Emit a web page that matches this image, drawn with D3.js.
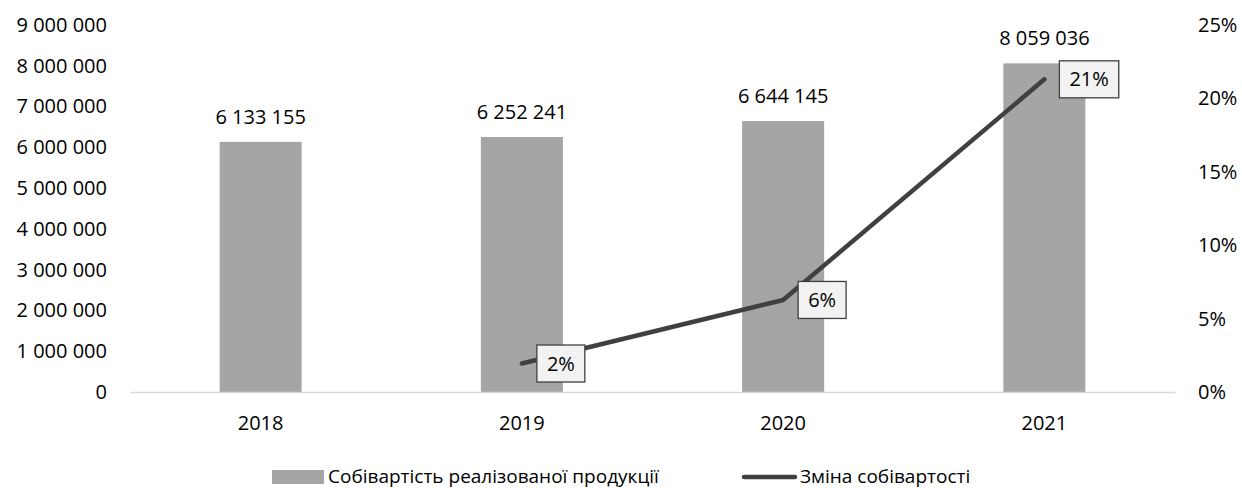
<!DOCTYPE html>
<html>
<head>
<meta charset="utf-8">
<script src="https://cdn.jsdelivr.net/npm/d3@7"></script>
<style>
  body { margin: 0; background: #fff; }
  svg text { font-family: "Open Sans", sans-serif; fill: #000; }
</style>
</head>
<body>
<div id="chart"></div>
<script>
// Data
var years = ["2018", "2019", "2020", "2021"];
var cost = [6133155, 6252241, 6644145, 8059036];
var change = [null, 0.0194, 0.0627, 0.2130];
var leftTicks = [0, 1000000, 2000000, 3000000, 4000000, 5000000, 6000000, 7000000, 8000000, 9000000];
var rightTicks = [0, 0.05, 0.10, 0.15, 0.20, 0.25];
var seriesNames = ["Собівартість реалізованої продукції", "Зміна собівартості"];

var width = 1242;
var height = 488;
var margin = ({ top: 25, right: 67, bottom: 96, left: 130 });
var fontSize = 20;

var barColor = "#a5a5a5";
var lineColor = "#404040";

// group numbers with a space like "6 133 155"
var fmtNum = d => d3.format(",")(d).replace(/,/g, " ");

const svg = d3.select("#chart")
    .append("svg")
    .attr("width", width)
    .attr("height", height);

var x = d3.scaleBand()
    .domain(years)
    .range([margin.left, width - margin.right])
    .paddingInner(0.686)
    .paddingOuter(0.343);

var y = d3.scaleLinear()
    .domain([0, 9000000])
    .range([height - margin.bottom, margin.top]);

var y2 = d3.scaleLinear()
    .domain([0, 0.25])
    .range([height - margin.bottom, margin.top]);

// Left axis (no line, no ticks)
svg.append("g")
    .attr("transform", `translate(${margin.left},0)`)
    .call(d3.axisLeft(y).tickValues(leftTicks).tickSize(0).tickPadding(23).tickFormat(fmtNum))
    .call(g => g.select(".domain").remove())
    .call(g => g.selectAll("text").style("font-size", fontSize + "px").attr("fill", "#000"));

// Right axis
svg.append("g")
    .attr("transform", `translate(${width - margin.right},0)`)
    .call(d3.axisRight(y2).tickValues(rightTicks).tickSize(0).tickPadding(23).tickFormat(d3.format(".0%")))
    .call(g => g.select(".domain").remove())
    .call(g => g.selectAll("text").style("font-size", fontSize + "px").attr("fill", "#000"));

// Bars
svg.append("g")
    .selectAll("rect")
    .data(years)
    .join("rect")
      .attr("fill", barColor)
      .attr("x", d => x(d))
      .attr("y", (d, i) => y(cost[i]))
      .attr("width", x.bandwidth())
      .attr("height", (d, i) => y(0) - y(cost[i]));

// Bottom axis: light baseline and year labels
svg.append("g")
    .attr("transform", `translate(0,${height - margin.bottom})`)
    .call(d3.axisBottom(x).tickSize(0).tickPadding(24))
    .call(g => g.select(".domain").attr("stroke", "#d9d9d9").attr("stroke-width", 1.3))
    .call(g => g.selectAll("text").style("font-size", fontSize + "px").attr("fill", "#000"));

// Value labels over the bars
svg.append("g")
    .selectAll("text")
    .data(years)
    .join("text")
      .attr("x", d => x(d) + x.bandwidth() / 2)
      .attr("y", (d, i) => y(cost[i]) - 18)
      .attr("text-anchor", "middle")
      .style("font-size", fontSize + "px")
      .text((d, i) => fmtNum(cost[i]));

// Line on the right axis
var pts = years.map((d, i) => ({ year: d, v: change[i] })).filter(d => d.v != null);
var cx = d => x(d.year) + x.bandwidth() / 2;

svg.append("path")
    .datum(pts)
    .attr("fill", "none")
    .attr("stroke", lineColor)
    .attr("stroke-width", 4.5)
    .attr("stroke-linecap", "round")
    .attr("stroke-linejoin", "round")
    .attr("d", d3.line().x(cx).y(d => y2(d.v)));

// Boxed percent labels to the right of each point
var lab = svg.append("g")
    .selectAll("g")
    .data(pts)
    .join("g")
      .attr("transform", d => `translate(${cx(d) + 15},${y2(d.v)})`);

lab.append("rect")
    .attr("fill", "#f2f2f2")
    .attr("stroke", lineColor)
    .attr("stroke-width", 1.3);

lab.append("text")
    .attr("dy", "0.35em")
    .style("font-size", fontSize + "px")
    .text(d => Math.round(d.v * 100) + "%");

lab.each(function () {
    var g = d3.select(this);
    var w = g.select("text").node().getComputedTextLength();
    g.select("text").attr("x", 10);
    g.select("rect")
        .attr("x", 0)
        .attr("y", -18.5)
        .attr("width", w + 20)
        .attr("height", 37);
});

// Legend
var legY = 477;
var legFont = 19;
var leg = svg.append("g");
leg.append("rect")
    .attr("x", 272)
    .attr("y", legY - 7)
    .attr("width", 52)
    .attr("height", 14)
    .attr("fill", barColor);
leg.append("text")
    .attr("x", 328)
    .attr("y", legY)
    .attr("dy", "0.3em")
    .style("font-size", legFont + "px")
    .text(seriesNames[0]);
leg.append("line")
    .attr("x1", 744)
    .attr("x2", 795)
    .attr("y1", legY)
    .attr("y2", legY)
    .attr("stroke", lineColor)
    .attr("stroke-width", 4.5)
    .attr("stroke-linecap", "round");
leg.append("text")
    .attr("x", 800)
    .attr("y", legY)
    .attr("dy", "0.3em")
    .style("font-size", legFont + "px")
    .text(seriesNames[1]);
</script>
</body>
</html>
